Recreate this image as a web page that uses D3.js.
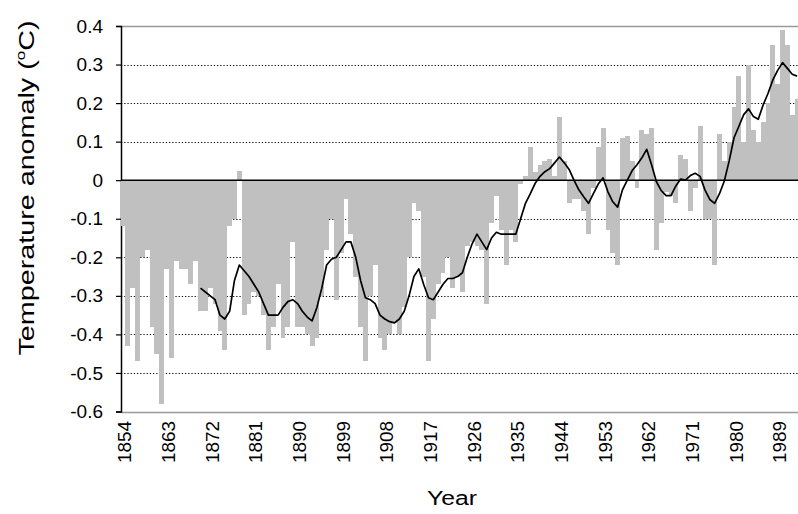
<!DOCTYPE html>
<html><head><meta charset="utf-8">
<script src="https://cdn.jsdelivr.net/npm/d3@7"></script>
<style>
body{margin:0;background:#fff}
svg{display:block}
text{font-family:"Liberation Sans",Arial,sans-serif;fill:#000}
</style>
</head><body>
<svg id="chart" width="798" height="514"></svg>
<script>
// ---- data ----
const firstYear = 1854;
const lastYear = 1993;
const anomalies = [
 -0.12,-0.43,-0.28,-0.47,-0.20,-0.18,-0.38,-0.45,-0.58,-0.23,
 -0.46,-0.21,-0.23,-0.23,-0.27,-0.21,-0.34,-0.34,-0.28,-0.32,
 -0.39,-0.44,-0.12,-0.10,0.025,-0.35,-0.32,-0.29,-0.30,-0.35,
 -0.44,-0.38,-0.27,-0.41,-0.38,-0.16,-0.38,-0.38,-0.40,-0.43,
 -0.41,-0.30,-0.18,-0.10,-0.31,-0.19,-0.05,-0.14,-0.25,-0.38,
 -0.47,-0.30,-0.22,-0.41,-0.44,-0.40,-0.37,-0.40,-0.33,-0.20,
 -0.06,-0.08,-0.25,-0.47,-0.36,-0.27,-0.24,-0.20,-0.28,-0.25,
 -0.29,-0.17,-0.16,-0.17,-0.18,-0.32,-0.11,-0.04,-0.13,-0.22,
 -0.13,-0.16,-0.01,0.01,0.085,0.02,0.04,0.05,0.055,0.01,
 0.165,0.05,-0.06,-0.05,-0.05,-0.08,-0.14,-0.02,0.085,0.135,
 -0.13,-0.19,-0.22,0.11,0.115,0.05,-0.02,0.13,0.12,0.135,
 -0.18,-0.11,-0.03,-0.04,-0.06,0.065,0.055,-0.08,-0.02,0.14,
 -0.10,-0.10,-0.22,0.12,0.05,0.10,0.19,0.27,0.10,0.30,
 0.13,0.10,0.15,0.20,0.35,0.25,0.39,0.35,0.17,0.21
];
const smoothStart = 1870;
const smoothed = [
 -0.28,-0.29,-0.30,-0.31,-0.35,-0.36,-0.34,-0.26,-0.22,-0.235,
 -0.25,-0.27,-0.29,-0.32,-0.35,-0.35,-0.35,-0.33,-0.315,-0.31,
 -0.32,-0.34,-0.355,-0.365,-0.33,-0.28,-0.22,-0.205,-0.20,-0.18,
 -0.16,-0.16,-0.20,-0.26,-0.305,-0.31,-0.32,-0.35,-0.36,-0.367,
 -0.37,-0.36,-0.34,-0.30,-0.25,-0.23,-0.27,-0.305,-0.31,-0.29,
 -0.27,-0.255,-0.255,-0.25,-0.24,-0.20,-0.165,-0.14,-0.16,-0.18,
 -0.15,-0.135,-0.14,-0.14,-0.14,-0.14,-0.10,-0.06,-0.035,-0.008,
 0.01,0.022,0.03,0.045,0.06,0.045,0.028,0.0,-0.025,-0.043,
 -0.06,-0.035,-0.01,0.006,-0.03,-0.056,-0.07,-0.025,0.0,0.025,
 0.04,0.058,0.08,0.04,-0.004,-0.027,-0.04,-0.04,-0.015,0.003,
 0.0,0.012,0.018,0.01,-0.025,-0.05,-0.06,-0.035,-0.002,0.05,
 0.11,0.14,0.17,0.185,0.165,0.158,0.195,0.225,0.26,0.285,
 0.305,0.29,0.275,0.27
];
const xTickYears = [1854,1863,1872,1881,1890,1899,1908,1917,1926,1935,1944,1953,1962,1971,1980,1989];
const yTickValues = [0.4,0.3,0.2,0.1,0,-0.1,-0.2,-0.3,-0.4,-0.5,-0.6];
const yTickLabels = ["0.4","0.3","0.2","0.1","0","-0.1","-0.2","-0.3","-0.4","-0.5","-0.6"];
const yTitle = "Temperature anomaly (";
const yTitleSup = "o";
const yTitleEnd = "C)";
const xTitle = "Year";

// ---- layout ----
const svg = d3.select("#chart");
const plotLeft = 121, plotTop = 26, plotBottom = 411.5;
const barStart = 120.5, barStep = 4.85;
const years = d3.range(firstYear, lastYear + 1);
const x = d3.scaleBand().domain(years).range([barStart, barStart + years.length * barStep]).padding(0);
const y = d3.scaleLinear().domain([-0.6, 0.4]).range([plotBottom, plotTop]);
const bw = x.bandwidth();

// gridlines (dotted)
svg.append("g").selectAll("line")
  .data(yTickValues.filter(v => v > -0.55 && v < 0.35 && v !== 0))
  .join("line")
  .attr("x1", plotLeft).attr("x2", 798)
  .attr("y1", d => Math.round(y(d)) + 0.5).attr("y2", d => Math.round(y(d)) + 0.5)
  .attr("stroke", "#111").attr("stroke-width", 1.2)
  .attr("stroke-dasharray", "1.3,1.9");

// plot border top/bottom (grey)
svg.append("g").selectAll("line")
  .data([0.4, -0.6])
  .join("line")
  .attr("x1", plotLeft).attr("x2", 798)
  .attr("y1", d => Math.round(y(d)) + 0.5).attr("y2", d => Math.round(y(d)) + 0.5)
  .attr("stroke", "#9a9a9a").attr("stroke-width", 1.5);

// y axis
const yAxis = d3.axisLeft(y).tickValues(yTickValues).tickSize(5).tickPadding(13)
  .tickFormat((d, i) => yTickLabels[i]);
const gy = svg.append("g").attr("transform", `translate(${plotLeft},0)`).call(yAxis);
gy.select(".domain").attr("stroke", "#000").attr("stroke-width", 1.5);
gy.selectAll(".tick line").attr("stroke", "#000").attr("stroke-width", 1.2);
gy.selectAll(".tick text").attr("font-size", 19).attr("font-family", '"Liberation Sans",Arial,sans-serif').attr("fill", "#000");

// bars
svg.append("g").selectAll("rect")
  .data(years.map((yr, i) => ({yr, v: anomalies[i]})))
  .join("rect")
  .attr("x", d => x(d.yr))
  .attr("width", bw)
  .attr("y", d => y(Math.max(0, d.v)))
  .attr("height", d => Math.abs(y(d.v) - y(0)))
  .attr("fill", "#c0c0c0")
  .attr("shape-rendering", "crispEdges");

// zero line
svg.append("line")
  .attr("x1", plotLeft).attr("x2", 798)
  .attr("y1", y(0)).attr("y2", y(0))
  .attr("stroke", "#000").attr("stroke-width", 1.5);

// smoothed line
const smoothData = smoothed.map((v, i) => ({yr: smoothStart + i, v}));
svg.append("path")
  .datum(smoothData)
  .attr("fill", "none").attr("stroke", "#000").attr("stroke-width", 1.7)
  .attr("stroke-linejoin", "round")
  .attr("d", d3.line().x(d => x(d.yr) + bw / 2).y(d => y(d.v)));

// x tick labels (rotated)
svg.append("g").selectAll("text")
  .data(xTickYears)
  .join("text")
  .attr("transform", d => `translate(${x(d) + bw / 2 + 8.5},421) rotate(-90)`)
  .attr("text-anchor", "end")
  .attr("font-size", 18)
  .attr("textLength", 42).attr("lengthAdjust", "spacingAndGlyphs")
  .text(d => String(d));

// axis titles
svg.append("text")
  .attr("x", 452).attr("y", 505)
  .attr("text-anchor", "middle").attr("font-size", 20)
  .attr("textLength", 50).attr("lengthAdjust", "spacingAndGlyphs")
  .text(xTitle);

const yt = svg.append("text")
  .attr("transform", "translate(34,188) rotate(-90)")
  .attr("text-anchor", "middle").attr("font-size", 22)
  .attr("textLength", 335).attr("lengthAdjust", "spacingAndGlyphs");
yt.append("tspan").text(yTitle);
yt.append("tspan").attr("font-size", 13).attr("dy", -9).text(yTitleSup);
yt.append("tspan").attr("dy", 9).text(yTitleEnd);
</script>
</body></html>
